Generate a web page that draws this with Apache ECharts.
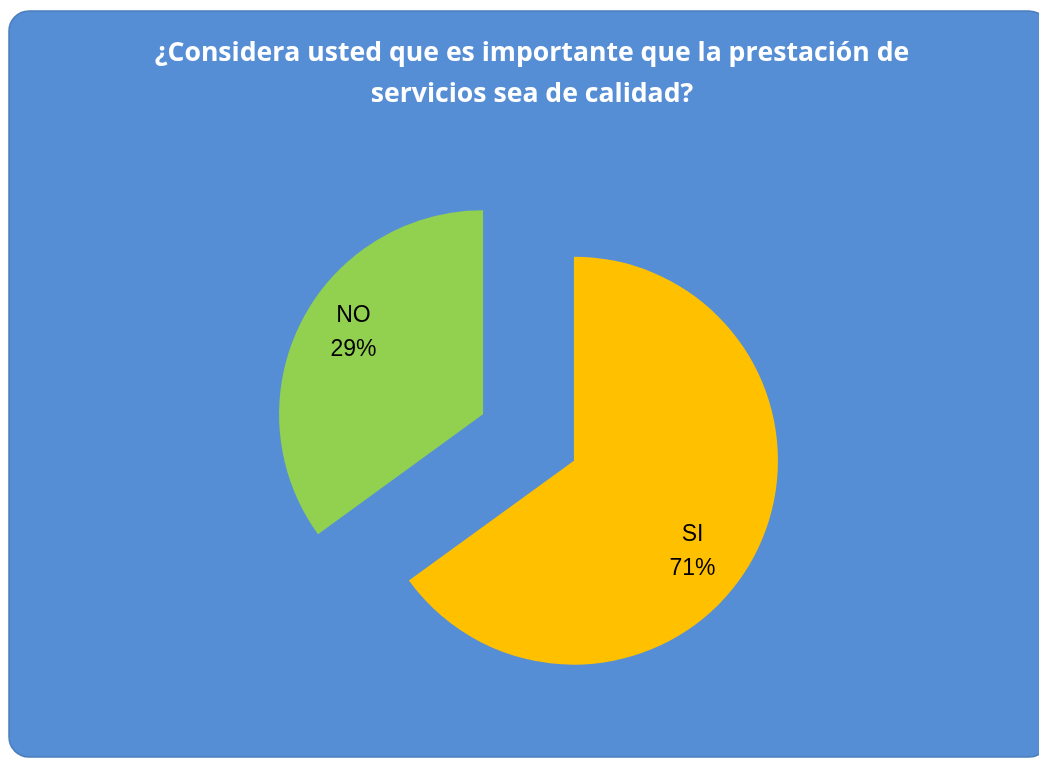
<!DOCTYPE html>
<html>
<head>
<meta charset="utf-8">
<script src="https://cdn.jsdelivr.net/npm/echarts@6/dist/echarts.min.js"></script>
<style>
html,body{margin:0;padding:0;background:#ffffff;}
#chart{width:1039px;height:758px;}
</style>
</head>
<body>
<div id="chart"></div>
<script>
const titleText = '¿Considera usted que es importante que la prestación de\nservicios sea de calidad?';
const categories = ['SI', 'NO'];
const sliceShares = [65, 35];           // slice sizes as drawn
const printedPercents = ['71%', '29%']; // percentages printed on the slices
const sliceColors = ['#FFC000', '#92D050'];
const labelShift = [[25, 43], [-36, -34]];

const chart = echarts.init(document.getElementById('chart'), null, {renderer: 'canvas'});

const data = categories.map((c, i) => ({
  name: c,
  value: sliceShares[i],
  selected: true,
  itemStyle: {color: sliceColors[i]}
}));

chart.setOption({
  animation: false,
  backgroundColor: '#ffffff',
  graphic: [{
    type: 'rect',
    z: -10,
    silent: true,
    shape: {x: 9, y: 11, width: 1040, height: 746, r: 20},
    style: {fill: '#558ED5', stroke: '#4A7EBB', lineWidth: 1.5}
  }],
  title: {
    text: titleText,
    left: 527,
    textAlign: 'center',
    top: 28,
    textStyle: {
      color: '#ffffff',
      fontFamily: 'Open Sans',
      fontWeight: 'bold',
      fontSize: 26.6,
      lineHeight: 41
    }
  },
  series: [{
    type: 'pie',
    center: [528.5, 437.5],
    radius: [0, 204],
    startAngle: 90,
    clockwise: true,
    selectedMode: 'multiple',
    selectedOffset: 51,
    emphasis: {disabled: true},
    label: {
      show: true,
      position: 'inside',
      color: '#000000',
      fontFamily: 'Liberation Sans',
      fontSize: 23,
      lineHeight: 34,
      formatter: p => p.name + '\n' + printedPercents[p.dataIndex]
    },
    labelLayout: p => ({dx: labelShift[p.dataIndex][0], dy: labelShift[p.dataIndex][1]}),
    labelLine: {show: false},
    itemStyle: {borderWidth: 0},
    data: data
  }]
});
</script>
</body>
</html>
